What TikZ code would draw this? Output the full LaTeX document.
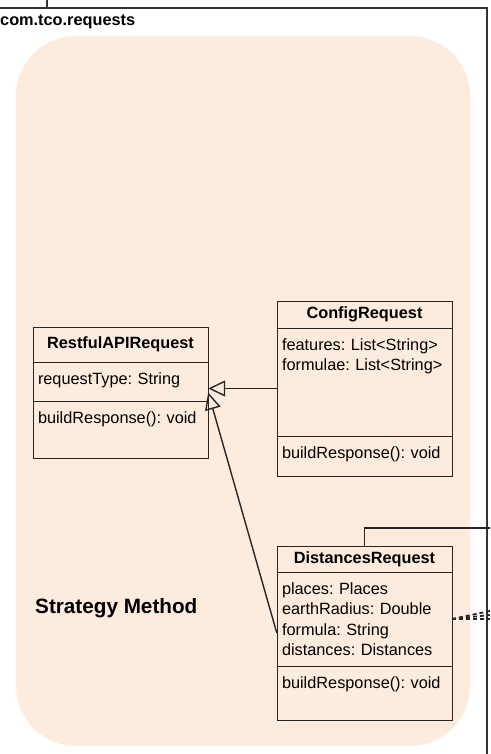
\documentclass[tikz,border=0pt]{standalone}
\usepackage{fontspec}
\setmainfont{Liberation Sans}
\usetikzlibrary{arrows.meta, positioning, fit}
\definecolor{peach}{RGB}{253,236,222}
\colorlet{umlline}{black!85}
\frenchspacing

\begin{document}
\begin{tikzpicture}[x=1pt, y=-1pt,
    head/.style = {draw=umlline, line width=1pt, minimum width=175pt, outer sep=0pt, inner sep=0pt, font=\fontsize{16.3}{20.5}\selectfont\bfseries},
    part/.style = {draw=umlline, line width=1pt, minimum width=175pt, text width=165pt, align=left, outer sep=0pt, inner xsep=5pt, inner ysep=6pt, text height=16pt, font=\fontsize{16.3}{20.5}\selectfont},
    inherit/.style = {-{Triangle[open, length=17pt, width=16pt]}, line width=1.4pt, umlline},
    dep/.style = {dash pattern=on 4pt off 3pt, line width=1.8pt, umlline},
    node distance=0pt]
        \useasboundingbox (0,0) rectangle (490,754);
        \fill[peach, rounded corners=60pt] (16,36) rectangle (470,746); % package body
        \draw[black!80, line width=1.3pt] (0,8) -- (487,8) -- (487,754); % frame
        \draw[black!80, line width=1.3pt] (47,0) -- (47,8);
        \node[anchor=base west, inner sep=0pt, font=\fontsize{16.3}{20}\selectfont\bfseries] (pkg) at (0,26) {com.tco.requests};
        \node[anchor=base west, inner sep=0pt, font=\fontsize{20.7}{24}\selectfont\bfseries] (note) at (35,613) {Strategy Method};
        % RestfulAPIRequest
        \node[head, minimum height=35pt, anchor=north west] (ra) at (33,327) {RestfulAPIRequest};
        \node[part, below=of ra, text depth=11pt] (ra-a) {requestType: String};
        \node[part, below=of ra-a, text depth=29pt] (ra-m) {buildResponse(): void};
        \node[fit=(ra)(ra-m), inner sep=0pt] (ra-box) {};
        % ConfigRequest
        \node[head, minimum height=27pt, anchor=north west] (cr) at (277,301) {ConfigRequest};
        \node[part, below=of cr, text depth=80pt] (cr-a) {features: List<String>\\formulae: List<String>};
        \node[part, below=of cr-a, text depth=12pt] (cr-m) {buildResponse(): void};
        \node[fit=(cr)(cr-m), inner sep=0pt] (cr-box) {};
        % DistancesRequest
        \node[head, minimum height=26pt, anchor=north west] (dr) at (277,546) {DistancesRequest};
        \node[part, below=of dr, text depth=66pt] (dr-a) {places: Places\\earthRadius: Double\\formula: String\\distances: Distances};
        \node[part, below=of dr-a, text depth=26pt] (dr-m) {buildResponse(): void};
        \node[fit=(dr)(dr-m), inner sep=0pt] (dr-box) {};
        \draw[inherit] (cr-box.west) -- (cr-box.west -| ra-box.east);
        \draw[inherit] (dr-box.west) -- (ra-box.east);
        \coordinate (out) at (490,528);
        \coordinate (dep1) at (490,611);
        \coordinate (dep2) at (490,615);
        \coordinate (dep3) at (490,619);
        \draw[line width=1.8pt, umlline] (dr.north) |- (out); % leaves the package
        \path[dep] (dr-a.east) edge (dep1) edge (dep2) edge (dep3);
    \end{tikzpicture}
\end{document}
